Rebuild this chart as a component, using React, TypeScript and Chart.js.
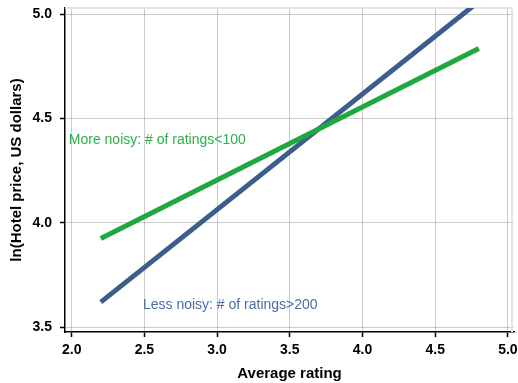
import React, { useEffect, useRef } from "react";
import { Chart, registerables } from "chart.js";

Chart.register(...registerables);

const xValues = [2.2, 4.8];
const moreNoisyValues = [3.925, 4.835];
const lessNoisyValues = [3.62, 5.06];
const xTicks = [2.0, 2.5, 3.0, 3.5, 4.0, 4.5, 5.0];
const yTicks = [3.5, 4.0, 4.5, 5.0];
const seriesNames = ["More noisy: # of ratings<100", "Less noisy: # of ratings>200"];
const labelX = [1.98, 2.49];
const labelY = [4.397, 3.606];
const xTitle = "Average rating";
const yTitle = "ln(Hotel price, US dollars)";

const GREEN = "#1ea83f";
const BLUE = "#3b5e8e";
const GREEN_TEXT = "#2bb04a";
const BLUE_TEXT = "#4a6ea6";

const annotationPlugin = {
  id: "annots",
  beforeDatasetsDraw(chart: any) {
    const { ctx, chartArea } = chart;
    ctx.save();
    ctx.strokeStyle = "#e4e4e4";
    ctx.lineWidth = 2;
    ctx.beginPath();
    ctx.moveTo(chartArea.left, chartArea.top);
    ctx.lineTo(chartArea.right - 2, chartArea.top);
    ctx.lineTo(chartArea.right - 2, chartArea.bottom);
    ctx.stroke();
    ctx.restore();
  },
  afterDatasetsDraw(chart: any) {
    const { ctx, scales } = chart;
    ctx.save();
    ctx.font = "14px 'Liberation Sans', Arial, sans-serif";
    ctx.textAlign = "left";
    ctx.textBaseline = "middle";
    const colors = [GREEN_TEXT, BLUE_TEXT];
    seriesNames.forEach((t, i) => {
      ctx.fillStyle = colors[i];
      ctx.fillText(t, scales.x.getPixelForValue(labelX[i]), scales.y.getPixelForValue(labelY[i]));
    });
    ctx.restore();
  },
};

export default function App() {
  const ref = useRef<HTMLCanvasElement>(null);
  useEffect(() => {
    if (!ref.current) return;
    const font = { family: "'Liberation Sans', Arial, sans-serif", size: 14, weight: "bold" as const };
    const chart = new Chart(ref.current, {
      type: "scatter",
      data: {
        datasets: [
          {
            label: seriesNames[0],
            data: xValues.map((x, i) => ({ x, y: moreNoisyValues[i] })),
            showLine: true,
            borderColor: GREEN,
            borderWidth: 5,
            pointRadius: 0,
            clip: 0,
          },
          {
            label: seriesNames[1],
            data: xValues.map((x, i) => ({ x, y: lessNoisyValues[i] })),
            showLine: true,
            borderColor: BLUE,
            borderWidth: 5,
            pointRadius: 0,
            clip: 0,
          },
        ],
      },
      options: {
        responsive: false,
        animation: false,
        layout: { padding: { top: 8, right: 4, left: 0, bottom: 0 } },
        plugins: { legend: { display: false }, tooltip: { enabled: false } },
        scales: {
          x: {
            type: "linear",
            min: 1.954,
            max: 5.042,
            afterBuildTicks: (s: any) => {
              s.ticks = xTicks.map((v) => ({ value: v }));
            },
            afterFit: (s: any) => {
              s.height = 51;
              s.paddingLeft = 0;
              s.paddingRight = 0;
            },
            ticks: {
              callback: (v: any) => Number(v).toFixed(1),
              color: "#000",
              font,
              padding: 5,
              maxRotation: 0,
            },
            grid: { color: "rgba(0,0,0,0.2)", lineWidth: 1, tickColor: "#000", tickLength: 5, tickWidth: 1.5 },
            border: { color: "#000", width: 1.5 },
            title: {
              display: true,
              text: xTitle,
              color: "#000",
              font: { family: "'Liberation Sans', Arial, sans-serif", size: 15, weight: "bold" },
              padding: { top: 0, bottom: 0 },
            },
          },
          y: {
            type: "linear",
            min: 3.477,
            max: 5.029,
            afterBuildTicks: (s: any) => {
              s.ticks = yTicks.map((v) => ({ value: v }));
            },
            afterFit: (s: any) => {
              s.width = 65;
              s.paddingTop = 0;
              s.paddingBottom = 0;
            },
            ticks: {
              callback: (v: any) => Number(v).toFixed(1),
              color: "#000",
              font,
              padding: 8,
            },
            grid: { color: "rgba(0,0,0,0.2)", lineWidth: 1, tickColor: "#000", tickLength: 5, tickWidth: 1.5 },
            border: { color: "#000", width: 1.5 },
            title: {
              display: true,
              text: yTitle,
              color: "#000",
              font: { family: "'Liberation Sans', Arial, sans-serif", size: 15, weight: "bold" },
              padding: { top: 8, bottom: 0 },
            },
          },
        },
      },
      plugins: [annotationPlugin],
    });
    return () => chart.destroy();
  }, []);
  return (
    <div style={{ position: "absolute", left: 0, top: 0, width: 518, height: 383 }}>
      <canvas ref={ref} width={518} height={383} style={{ display: "block" }} />
    </div>
  );
}
